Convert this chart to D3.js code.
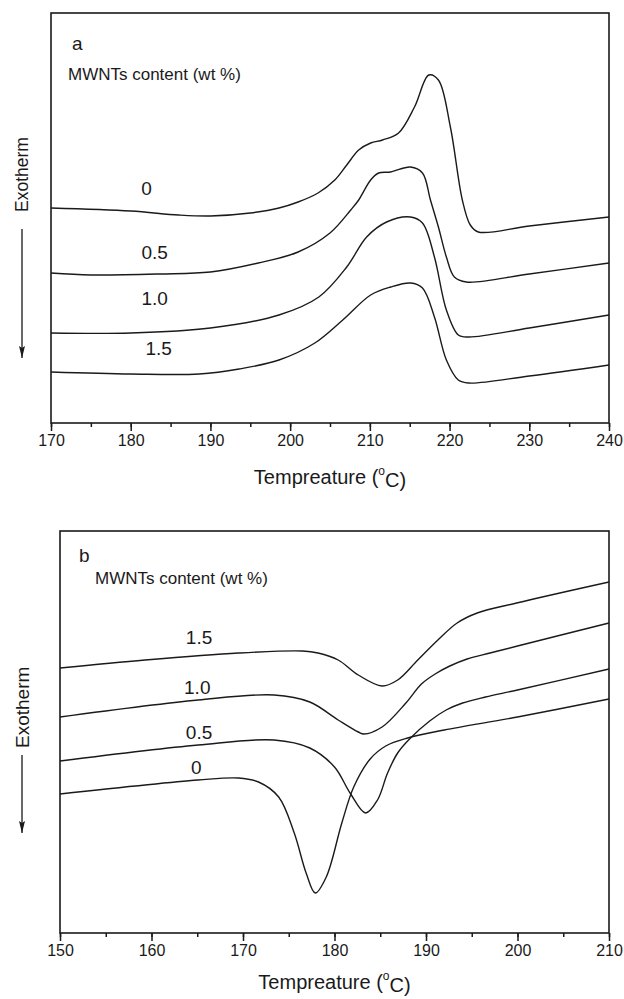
<!DOCTYPE html>
<html>
<head>
<meta charset="utf-8">
<script src="https://cdn.jsdelivr.net/npm/d3@7"></script>
<style>
  body { margin: 0; background: #fff; }
  svg { display: block; }
  text { font-family: "Liberation Sans", Arial, sans-serif; fill: #1a1a1a; }
</style>
</head>
<body>
<svg id="chart" width="624" height="999"></svg>
<script>
// MWNTs content labels (wt %)
const contents = ['0', '0.5', '1.0', '1.5'];

// panel a (heating scan) : [temperature, heat flow a.u.]
const heatA0 = [[170, 21.5], [180, 21.2], [186, 20.8], [190, 20.7], [195, 21.0], [198.6, 21.5], [201, 22.1],
  [203.5, 23.0], [205.6, 24.3], [207.1, 25.8], [208.6, 27.3], [210.1, 28.0], [211.6, 28.3], [213.6, 29.0],
  [215.6, 31.6], [217.4, 34.8], [218.6, 34.3], [220.1, 29.6], [221.6, 22.3], [222.6, 19.8], [223.6, 19.1],
  [230, 19.7], [240, 20.6]];
const heatA05 = [[170, 15.0], [175, 14.8], [183.6, 14.9], [190, 15.1], [196, 16.0], [201, 17.1], [205, 19.0],
  [207.6, 21.3], [208.6, 22.3], [210.1, 24.3], [211.1, 25.0], [212.6, 25.1], [215.1, 25.6], [216.6, 25.0],
  [217.6, 22.3], [218.6, 19.6], [219.6, 16.6], [220.6, 14.6], [222.1, 14.1], [230, 14.9], [240, 16.0]];
const heatA10 = [[170, 9.0], [180, 9.0], [190, 9.5], [198.6, 10.8], [203.6, 12.6], [207.1, 15.6], [209.6, 18.6],
  [212.1, 20.1], [215.1, 20.6], [216.6, 20.0], [218.1, 16.6], [219.6, 11.3], [221.1, 8.8], [222.4, 8.6],
  [230, 9.5], [240, 10.8]];
const heatA15 = [[170, 5.1], [180, 4.9], [188.6, 4.9], [193.6, 5.4], [198.6, 6.3], [203.1, 8.0], [206.6, 10.3],
  [210.1, 12.8], [212.6, 13.6], [215.1, 14.0], [216.6, 13.5], [218.1, 10.6], [219.6, 6.3], [221.1, 4.3],
  [222.4, 4.0], [230, 4.7], [240, 5.8]];

// panel b (cooling scan)
const coolB0 = [[150, 13.9], [165.1, 15.3], [169.5, 15.5], [171.7, 15.1], [173.9, 13.6], [175.6, 10.0],
  [176.9, 6.0], [177.9, 4.0], [179.1, 5.6], [180.8, 11.0], [182.1, 14.6], [183.9, 17.4], [185.6, 18.7],
  [188, 19.5], [192, 20.3], [200, 21.6], [210, 23.4]];
const coolB05 = [[150, 17.2], [165.1, 18.8], [173.4, 19.3], [177.3, 18.5], [180, 16.6], [181.7, 14.0],
  [183.4, 12.0], [184.7, 13.3], [185.8, 16.0], [186.9, 18.0], [188.2, 19.4], [190.4, 21.2], [192.2, 22.3],
  [194, 23.0], [196.5, 23.6], [200, 24.3], [210, 26.4]];
const coolB10 = [[150, 21.6], [165.1, 23.3], [173.4, 23.8], [177.3, 23.1], [180.4, 21.3], [182.6, 20.1],
  [183.2, 19.9], [185.2, 20.6], [187.8, 23.0], [189.5, 24.9], [191, 25.9], [192.6, 26.7], [194.5, 27.4],
  [197, 28.0], [200, 28.7], [210, 31.0]];
const coolB15 = [[150, 26.5], [159.3, 27.3], [169.5, 28.0], [176.5, 28.2], [178.2, 28.0], [180.4, 27.3],
  [182.6, 25.8], [185.2, 24.7], [186.9, 25.3], [189.1, 27.3], [191.3, 29.3], [193.4, 31.0], [195.6, 32.0],
  [199.9, 33.0], [210, 35.1]];

// where the content labels sit, in data units
const labelAtA = [[182.0, 23.5], [183.0, 17.1], [183.0, 12.5], [183.5, 7.5]];
const labelAtB = [[164.9, 16.6], [165.2, 20.1], [165.0, 24.6], [165.2, 29.6]];

const ticksA = [170, 180, 190, 200, 210, 220, 230, 240];
const ticksB = [150, 160, 170, 180, 190, 200, 210];

const svg = d3.select('#chart');

svg.append('defs').append('marker')
  .attr('id', 'head')
  .attr('viewBox', '0 0 12 6')
  .attr('refX', 12).attr('refY', 3)
  .attr('markerWidth', 12).attr('markerHeight', 6)
  .attr('markerUnits', 'userSpaceOnUse')
  .attr('orient', 'auto')
  .append('path')
  .attr('d', 'M0,0 L12,3 L0,6 L2,3 Z')
  .attr('fill', '#1a1a1a');

function drawPanel(opt) {
  const x = d3.scaleLinear().domain(opt.xDomain).range([opt.left, opt.right]);
  const y = d3.scaleLinear().domain(opt.yDomain).range([opt.bottom, opt.top]);
  const g = svg.append('g');

  const line = d3.line()
    .x(d => x(d[0]))
    .y(d => y(d[1]))
    .curve(d3.curveCatmullRom.alpha(0.5));

  g.selectAll('path.curve')
    .data(opt.series)
    .join('path')
    .attr('class', 'curve')
    .attr('d', line)
    .attr('fill', 'none')
    .attr('stroke', '#1a1a1a')
    .attr('stroke-width', 1.4);

  // minor ticks
  const minor = d3.range(opt.xDomain[0], opt.xDomain[1] + 0.1, 5);
  g.append('g')
    .attr('transform', `translate(0,${opt.bottom})`)
    .call(d3.axisBottom(x).tickValues(minor).tickSize(4).tickFormat(''))
    .call(a => a.select('.domain').remove())
    .call(a => a.selectAll('line').attr('stroke', '#1a1a1a').attr('stroke-width', 1.5));

  g.append('g')
    .attr('transform', `translate(0,${opt.bottom})`)
    .call(d3.axisBottom(x).tickValues(opt.ticks).tickSize(8).tickPadding(4).tickFormat(d3.format('d')))
    .call(a => a.select('.domain').remove())
    .call(a => a.selectAll('line').attr('stroke', '#1a1a1a').attr('stroke-width', 1.5))
    .call(a => a.selectAll('text').attr('font-size', 16).attr('fill', '#1a1a1a')
      .style('font-family', '"Liberation Sans", Arial, sans-serif'));

  g.append('rect')
    .attr('x', opt.left).attr('y', opt.top)
    .attr('width', opt.right - opt.left).attr('height', opt.bottom - opt.top)
    .attr('fill', 'none').attr('stroke', '#1a1a1a').attr('stroke-width', 1.6);

  g.selectAll('text.lbl')
    .data(opt.labels)
    .join('text')
    .attr('class', 'lbl')
    .attr('x', d => x(d[0]))
    .attr('y', d => y(d[1]))
    .attr('dy', '0.36em')
    .attr('text-anchor', 'middle')
    .attr('font-size', 19)
    .text((d, i) => contents[i]);

  g.append('text')
    .attr('x', opt.letterX).attr('y', opt.letterY).attr('dy', '0.36em')
    .attr('font-size', 19).text(opt.letter);

  g.append('text')
    .attr('x', opt.noteX).attr('y', opt.noteY).attr('dy', '0.36em')
    .attr('font-size', 17).text('MWNTs content (wt %)');

  const title = g.append('text')
    .attr('x', (opt.left + opt.right) / 2).attr('y', opt.titleY).attr('dy', '0.36em')
    .attr('text-anchor', 'middle').attr('font-size', 20);
  title.append('tspan').text('Tempreature (');
  title.append('tspan').attr('font-size', 12).attr('dy', '-0.75em').text('o');
  title.append('tspan').attr('dy', '0.6em').text('C)');

  g.append('text')
    .attr('transform', `translate(${opt.exoX},${opt.exoY}) rotate(-90)`)
    .attr('dy', '0.36em')
    .attr('font-size', opt.exoSize)
    .text('Exotherm');

  g.append('line')
    .attr('x1', opt.exoX).attr('x2', opt.exoX)
    .attr('y1', opt.arrowY[0]).attr('y2', opt.arrowY[1])
    .attr('stroke', '#1a1a1a').attr('stroke-width', 1.3)
    .attr('marker-end', 'url(#head)');
}

drawPanel({
  xDomain: [170, 240], yDomain: [0, 41], ticks: ticksA,
  left: 51, right: 609, top: 13, bottom: 423,
  series: [heatA0, heatA05, heatA10, heatA15], labels: labelAtA,
  letter: 'a', letterX: 72, letterY: 43, noteX: 68, noteY: 74,
  titleY: 477, exoX: 22, exoY: 212, exoSize: 17.5, arrowY: [229, 358]
});

drawPanel({
  xDomain: [150, 210], yDomain: [0, 40.2], ticks: ticksB,
  left: 60, right: 609, top: 531, bottom: 933,
  series: [coolB0, coolB05, coolB10, coolB15], labels: labelAtB,
  letter: 'b', letterX: 79, letterY: 555, noteX: 95, noteY: 578,
  titleY: 982, exoX: 22, exoY: 748, exoSize: 19, arrowY: [755, 833]
});
</script>
</body>
</html>
